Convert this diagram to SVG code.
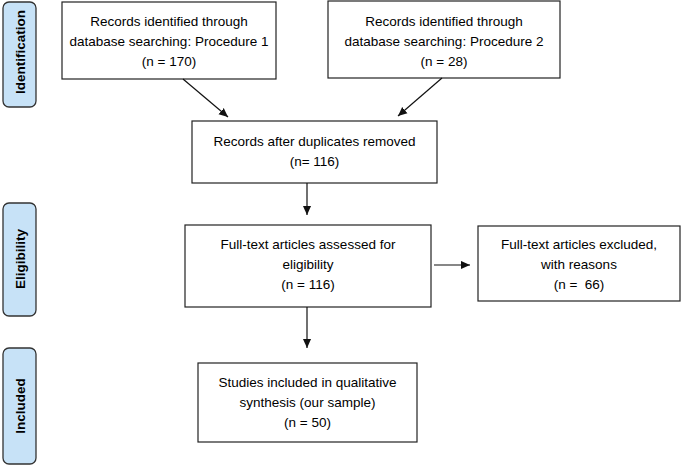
<svg xmlns="http://www.w3.org/2000/svg" width="685" height="466" viewBox="0 0 685 466">
<style>
.box{fill:#fff;stroke:#222;stroke-width:1.2}
.side{fill:#c7e2f7;stroke:#333;stroke-width:1.3}
.t{font-family:"Liberation Sans",Arial,sans-serif;font-size:13.5px;fill:#000;text-anchor:middle}
.s{font-family:"Liberation Sans",Arial,sans-serif;font-size:13.5px;font-weight:bold;fill:#000;text-anchor:middle}
.c{stroke:#111;stroke-width:1.2;fill:none;marker-end:url(#ah)}
</style>
<defs>
<marker id="ah" viewBox="0 0 10 10" refX="10" refY="5" markerWidth="9" markerHeight="9" markerUnits="userSpaceOnUse" orient="auto">
<path d="M0,0.5 L10,5 L0,9.5 z" fill="#111"/>
</marker>
</defs>
<rect width="685" height="466" fill="#fff"/>
<g id="label-identification">
<rect class="side" x="3" y="2" width="33" height="105" rx="6"/>
<text class="s" transform="translate(24.5,52) rotate(-90)">Identification</text>
</g>
<g id="label-eligibility">
<rect class="side" x="3" y="203" width="33" height="113" rx="6"/>
<text class="s" transform="translate(24.5,259) rotate(-90)">Eligibility</text>
</g>
<g id="label-included">
<rect class="side" x="3" y="348" width="33" height="116" rx="6"/>
<text class="s" transform="translate(24.5,406) rotate(-90)">Included</text>
</g>
<g id="records-1">
<rect class="box" x="62" y="2" width="214" height="77"/>
<text class="t" x="169" y="26">Records identified through</text>
<text class="t" x="169" y="46">database searching: Procedure 1</text>
<text class="t" x="169" y="66">(n = 170)</text>
</g>
<g id="records-2">
<rect class="box" x="328" y="1" width="232" height="77"/>
<text class="t" x="444" y="26">Records identified through</text>
<text class="t" x="444" y="46">database searching: Procedure 2</text>
<text class="t" x="444" y="66">(n = 28)</text>
</g>
<g id="duplicates-removed">
<rect class="box" x="192" y="121" width="245" height="62"/>
<text class="t" x="314.5" y="146">Records after duplicates removed</text>
<text class="t" x="314.5" y="166">(n= 116)</text>
</g>
<g id="full-text-assessed">
<rect class="box" x="185" y="225" width="246" height="82"/>
<text class="t" x="308" y="249">Full-text articles assessed for</text>
<text class="t" x="308" y="269">eligibility</text>
<text class="t" x="308" y="289">(n = 116)</text>
</g>
<g id="full-text-excluded">
<rect class="box" x="478" y="226" width="202" height="75"/>
<text class="t" x="579" y="249">Full-text articles excluded,</text>
<text class="t" x="579" y="269">with reasons</text>
<text class="t" x="579" y="289" xml:space="preserve">(n =  66)</text>
</g>
<g id="studies-included">
<rect class="box" x="198" y="363" width="219" height="79"/>
<text class="t" x="307.5" y="387">Studies included in qualitative</text>
<text class="t" x="307.5" y="407">synthesis (our sample)</text>
<text class="t" x="307.5" y="427">(n = 50)</text>
</g>
<g id="connectors">
<line class="c" x1="183" y1="79" x2="228" y2="117"/>
<line class="c" x1="442" y1="78" x2="398" y2="116"/>
<line class="c" x1="307" y1="183" x2="307" y2="215"/>
<line class="c" x1="434" y1="265" x2="470" y2="265"/>
<line class="c" x1="307" y1="307" x2="307" y2="348"/>
</g>
</svg>
